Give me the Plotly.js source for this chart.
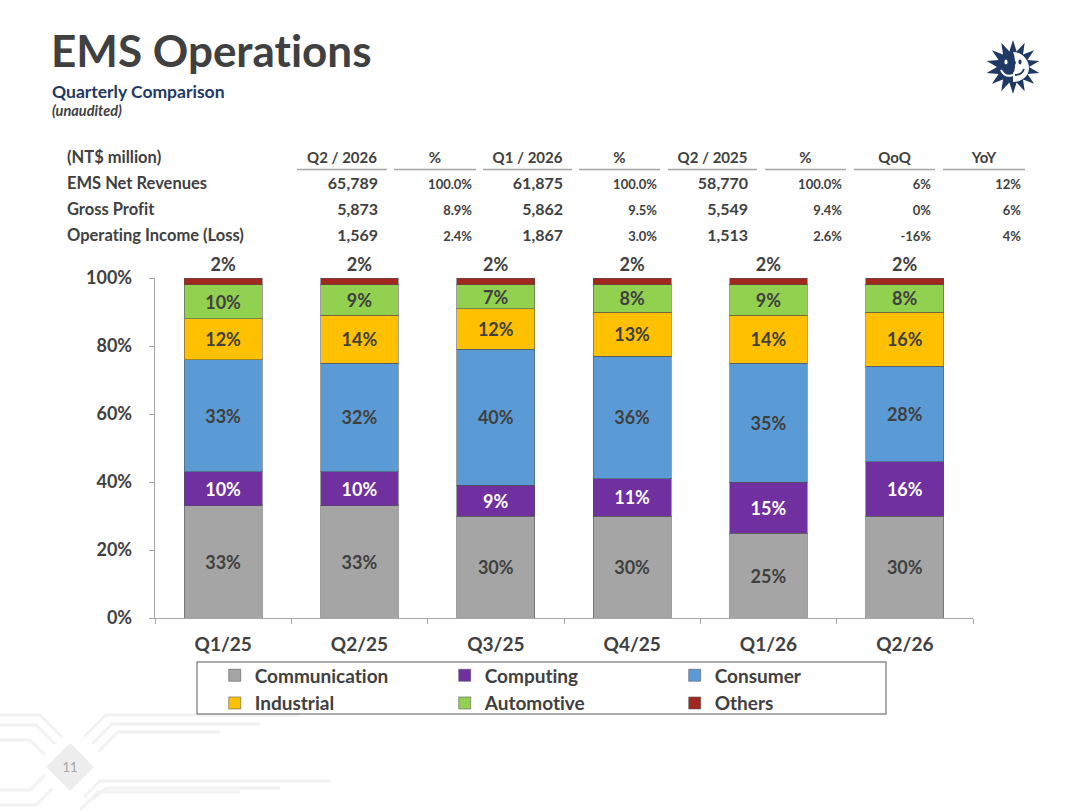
<!DOCTYPE html>
<html>
<head>
<meta charset="utf-8">
<script src="https://cdn.plot.ly/plotly-3.0.1.min.js"></script>
<style>
  html, body { margin: 0; padding: 0; background: #ffffff; }
  #page { position: relative; width: 1080px; height: 810px; overflow: hidden; font-family: Lato, "Open Sans", sans-serif; }
  #page, #page * { font-variant-ligatures: none; font-feature-settings: "liga" 0, "clig" 0; }
  #chart { position: absolute; left: 0; top: 0; width: 1080px; height: 810px; }
  #overlay { position: absolute; left: 0; top: 0; width: 1080px; height: 810px; pointer-events: none; }
</style>
</head>
<body>
<div id="page">
  <div id="chart"></div>
  <svg id="overlay" width="1080" height="810" xmlns="http://www.w3.org/2000/svg"></svg>
</div>
<script>
// ---------------- data ----------------
const quarters = ['Q1/25', 'Q2/25', 'Q3/25', 'Q4/25', 'Q1/26', 'Q2/26'];
const communication = [33, 33, 30, 30, 25, 30];
const computing     = [10, 10, 9, 11, 15, 16];
const consumer      = [33, 32, 40, 36, 35, 28];
const industrial    = [12, 14, 12, 13, 14, 16];
const automotive    = [10, 9, 7, 8, 9, 8];
const others        = [2, 2, 2, 2, 2, 2];
const yTicks        = [0, 20, 40, 60, 80, 100];

const tableTitle   = '(NT$ million)';
const tableHeaders = ['Q2 / 2026', '%', 'Q1 / 2026', '%', 'Q2 / 2025', '%', 'QoQ', 'YoY'];
const rowLabels    = ['EMS Net Revenues', 'Gross Profit', 'Operating Income (Loss)'];
const rowRevenue   = ['65,789', '100.0%', '61,875', '100.0%', '58,770', '100.0%', '6%', '12%'];
const rowGross     = ['5,873', '8.9%', '5,862', '9.5%', '5,549', '9.4%', '0%', '6%'];
const rowOpIncome  = ['1,569', '2.4%', '1,867', '3.0%', '1,513', '2.6%', '-16%', '4%'];

// ---------------- chart ----------------
const FONT = 'Lato, "Open Sans", sans-serif';
const TXT = '#404040';
const seriesDefs = [
  { name: 'Communication', y: communication, color: '#a5a5a5', tc: TXT },
  { name: 'Computing',     y: computing,     color: '#7030a0', tc: '#ffffff' },
  { name: 'Consumer',      y: consumer,      color: '#5b9bd5', tc: TXT },
  { name: 'Industrial',    y: industrial,    color: '#ffc000', tc: TXT },
  { name: 'Automotive',    y: automotive,    color: '#92d050', tc: TXT },
  { name: 'Others',        y: others,        color: '#a0281e', tc: TXT, outside: true }
];

const traces = seriesDefs.map(s => ({
  type: 'bar',
  name: s.name,
  x: quarters,
  y: s.y,
  marker: { color: s.color, line: { color: 'rgba(80,80,80,0.55)', width: 1 } },
  text: s.y.map(v => v + '%'),
  textinfo: 'text',
  textposition: s.outside ? 'outside' : 'inside',
  insidetextanchor: 'middle',
  textangle: 0,
  constraintext: 'none',
  cliponaxis: false,
  textfont: { family: FONT, size: 18, color: s.tc, weight: 'bold' },
  insidetextfont: { family: FONT, size: 18, color: s.tc, weight: 'bold' },
  outsidetextfont: { family: FONT, size: 18, color: s.tc, weight: 'bold' },
  hoverinfo: 'skip'
}));

const layout = {
  width: 1080, height: 810,
  margin: { l: 155, r: 107, t: 278, b: 192, pad: 0 },
  paper_bgcolor: 'rgba(0,0,0,0)',
  plot_bgcolor: 'rgba(0,0,0,0)',
  barmode: 'stack',
  bargap: 0.43,
  font: { family: FONT, color: TXT },
  showlegend: true,
  legend: {
    orientation: 'h',
    x: 0.073, xanchor: 'left',
    y: -0.113, yanchor: 'top',
    traceorder: 'normal',
    entrywidth: 185,
    entrywidthmode: 'pixels',
    font: { family: FONT, size: 19, color: TXT, weight: 'bold' },
    bgcolor: 'rgba(0,0,0,0)',
    borderwidth: 0,
    tracegroupgap: 0
  },
  xaxis: {
    type: 'category',
    showline: true, linecolor: '#a6a6a6', linewidth: 1.3,
    ticks: 'outside', tickson: 'boundaries', ticklen: 5, tickcolor: '#a6a6a6',
    showgrid: false, zeroline: false,
    ticklabelstandoff: 9,
    tickfont: { family: FONT, size: 19, color: TXT, weight: 'bold' },
    fixedrange: true
  },
  yaxis: {
    range: [0, 100],
    tickvals: yTicks,
    ticktext: yTicks.map(v => v + '%'),
    showline: true, linecolor: '#a6a6a6', linewidth: 1.3,
    ticks: 'outside', ticklen: 5, tickcolor: '#a6a6a6',
    showgrid: false, zeroline: false,
    ticklabelstandoff: 13,
    tickfont: { family: FONT, size: 18, color: TXT, weight: 'bold' },
    fixedrange: true
  }
};

Plotly.newPlot('chart', traces, layout, { displayModeBar: false, staticPlot: true });

// ---------------- overlay: header, table, logo, decoration ----------------
const NS = 'http://www.w3.org/2000/svg';
const svg = document.getElementById('overlay');
function el(tag, attrs, text) {
  const e = document.createElementNS(NS, tag);
  for (const k in attrs) e.setAttribute(k, attrs[k]);
  if (text !== undefined) e.textContent = text;
  svg.appendChild(e);
  return e;
}

// bottom-left decoration (faint circuit lines)
const decoLines = [
  'M0,715 L40,715 L62,737', 'M0,725 L36,725 L55,744', 'M0,740 L30,740 L45,755',
  'M0,790 L30,790 L45,775', 'M0,805 L36,805 L52,789',
  'M84,737 L106,715 L300,715', 'M92,744 L112,724 L260,724', 'M98,752 L118,732 L220,732',
  'M84,797 L100,781 L330,781', 'M92,800 L106,788 L280,788', 'M80,810 L98,792 L240,792'
];
decoLines.forEach(d => el('path', { d: d, fill: 'none', stroke: '#f2f2f2', 'stroke-width': 3 }));
el('path', { d: 'M70,743 L94,767 L70,791 L46,767 Z', fill: '#ededed' });
el('text', { x: 70, y: 772, 'text-anchor': 'middle', 'font-family': FONT, 'font-size': 13, fill: '#a6a6a6' }, '11');

// title block
el('text', { x: 51, y: 67, 'font-family': FONT, 'font-size': 44, 'font-weight': 'bold', fill: '#404040' }, 'EMS Operations');
el('text', { x: 52, y: 98, 'font-family': FONT, 'font-size': 17.5, 'font-weight': 'bold', fill: '#1f3864' }, 'Quarterly Comparison');
el('text', { x: 52, y: 116, 'font-family': FONT, 'font-size': 14.5, 'font-weight': 'bold', 'font-style': 'italic', fill: '#404040' }, '(unaudited)');

// logo (sun with face)
(function () {
  const cx = 1013, cy = 67, n = 14, ro = 27, ri = 16;
  let pts = [];
  for (let i = 0; i < n * 2; i++) {
    const a = -Math.PI / 2 + i * Math.PI / n;
    const r = i % 2 === 0 ? ro : ri;
    pts.push((cx + r * Math.cos(a)).toFixed(1) + ',' + (cy + r * Math.sin(a)).toFixed(1));
  }
  el('polygon', { points: pts.join(' '), fill: '#1f3864' });
  el('path', { d: `M${cx},${cy - 15} C${cx + 9},${cy - 15} ${cx + 16},${cy - 7} ${cx + 16},${cy + 1} C${cx + 16},${cy + 9} ${cx + 9},${cy + 15} ${cx},${cy + 15} L${cx},${cy + 6} C${cx + 3},${cy + 3} ${cx + 1},${cy - 2} ${cx + 3},${cy - 4} C${cx + 1},${cy - 8} ${cx + 2},${cy - 12} ${cx},${cy - 15} Z`, fill: '#ffffff' });
  el('ellipse', { cx: cx + 7, cy: cy - 5, rx: 1.6, ry: 2.4, fill: '#1f3864' });
  el('path', { d: `M${cx + 2},${cy + 8} Q${cx + 9},${cy + 8} ${cx + 11},${cy + 2}`, fill: 'none', stroke: '#1f3864', 'stroke-width': 1.8 });
  el('ellipse', { cx: cx - 7, cy: cy - 5, rx: 1.6, ry: 2.4, fill: '#ffffff' });
  el('path', { d: `M${cx - 12},${cy + 3} Q${cx - 8},${cy + 11} ${cx},${cy + 8}`, fill: 'none', stroke: '#ffffff', 'stroke-width': 2 });
})();

// table
const colSpans  = [[297, 387], [394, 476], [483, 572], [579, 660], [668, 757], [765, 846], [854, 935], [943, 1025]];
const colRight  = [378, 472, 563, 657, 748, 842, 931, 1021];
const pctCol    = [false, true, false, true, false, true, true, true];
const rowBase   = [163, 189, 215, 241];
el('text', { x: 67, y: rowBase[0], 'font-family': FONT, 'font-size': 16.5, 'font-weight': 'bold', fill: TXT }, tableTitle);
tableHeaders.forEach((h, i) => {
  const [a, b] = colSpans[i];
  el('text', { x: (a + b) / 2, y: rowBase[0], 'text-anchor': 'middle', 'font-family': FONT, 'font-size': 15, 'font-weight': 'bold', fill: TXT }, h);
  el('line', { x1: a, x2: b, y1: 169.5, y2: 169.5, stroke: '#a6a6a6', 'stroke-width': 1.5 });
});
[rowRevenue, rowGross, rowOpIncome].forEach((row, r) => {
  const y = rowBase[r + 1];
  el('text', { x: 67, y: y, 'font-family': FONT, 'font-size': 16.5, 'font-weight': 'bold', fill: TXT }, rowLabels[r]);
  row.forEach((v, i) => {
    el('text', { x: colRight[i], y: y, 'text-anchor': 'end', 'font-family': FONT,
      'font-size': pctCol[i] ? 13 : 16, 'font-weight': 'bold', fill: TXT }, v);
  });
});

// legend frame
el('rect', { x: 197, y: 662, width: 689, height: 52, fill: 'none', stroke: '#7f7f7f', 'stroke-width': 1.3 });
</script>
</body>
</html>
